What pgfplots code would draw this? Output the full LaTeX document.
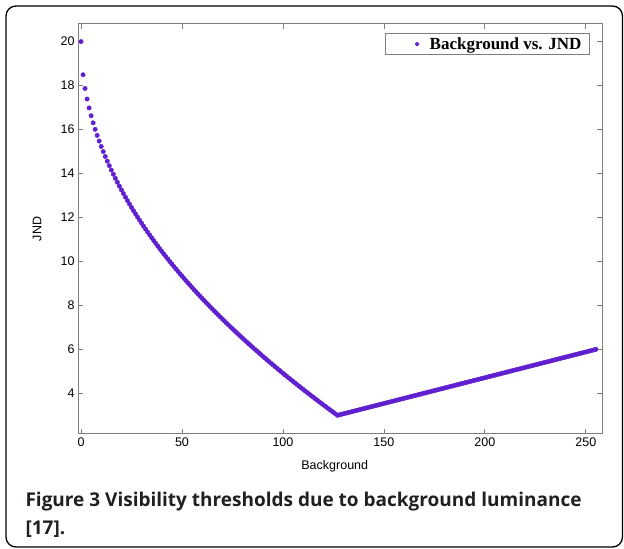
\documentclass[border=0pt]{standalone}
\usepackage{fontspec}
\setmainfont{Liberation Sans}
\newfontfamily\legfont{Liberation Serif}
\newfontfamily\capfont{Open Sans}
\usepackage{pgfplots}
\pgfplotsset{compat=1.18}
\usepackage{pgfplotstable}
\definecolor{axisgray}{RGB}{125,125,125}
\definecolor{markcol}{RGB}{96,32,208}
\definecolor{captext}{RGB}{35,31,32}

% background luminance vs. JND (one point per grey level)
\pgfplotstableread[row sep=\\]{
x y\\
0 20\\ 1 18.492\\ 2 17.867\\ 3 17.387\\ 4 16.983\\ 5 16.627\\ 6 16.305\\ 7 16.009\\ 8 15.733\\ 9 15.474\\
10 15.230\\ 11 14.997\\ 12 14.774\\ 13 14.561\\ 14 14.356\\ 15 14.158\\ 16 13.966\\ 17 13.780\\ 18 13.600\\ 19 13.425\\
20 13.254\\ 21 13.087\\ 22 12.925\\ 23 12.765\\ 24 12.610\\ 25 12.457\\ 26 12.308\\ 27 12.162\\ 28 12.018\\ 29 11.876\\
30 11.738\\ 31 11.601\\ 32 11.467\\ 33 11.334\\ 34 11.204\\ 35 11.076\\ 36 10.949\\ 37 10.824\\ 38 10.701\\ 39 10.579\\
40 10.459\\ 41 10.341\\ 42 10.224\\ 43 10.108\\ 44 9.994\\ 45 9.881\\ 46 9.769\\ 47 9.658\\ 48 9.549\\ 49 9.440\\
50 9.333\\ 51 9.227\\ 52 9.122\\ 53 9.018\\ 54 8.915\\ 55 8.813\\ 56 8.711\\ 57 8.611\\ 58 8.512\\ 59 8.413\\
60 8.315\\ 61 8.218\\ 62 8.122\\ 63 8.027\\ 64 7.932\\ 65 7.838\\ 66 7.745\\ 67 7.652\\ 68 7.560\\ 69 7.469\\
70 7.379\\ 71 7.289\\ 72 7.200\\ 73 7.111\\ 74 7.023\\ 75 6.936\\ 76 6.849\\ 77 6.763\\ 78 6.677\\ 79 6.592\\
80 6.507\\ 81 6.423\\ 82 6.340\\ 83 6.257\\ 84 6.174\\ 85 6.092\\ 86 6.011\\ 87 5.930\\ 88 5.849\\ 89 5.769\\
90 5.689\\ 91 5.610\\ 92 5.531\\ 93 5.452\\ 94 5.374\\ 95 5.297\\ 96 5.220\\ 97 5.143\\ 98 5.067\\ 99 4.991\\
100 4.915\\ 101 4.840\\ 102 4.765\\ 103 4.690\\ 104 4.616\\ 105 4.542\\ 106 4.469\\ 107 4.396\\ 108 4.323\\ 109 4.251\\
110 4.179\\ 111 4.107\\ 112 4.035\\ 113 3.964\\ 114 3.893\\ 115 3.823\\ 116 3.753\\ 117 3.683\\ 118 3.613\\ 119 3.544\\
120 3.475\\ 121 3.406\\ 122 3.338\\ 123 3.270\\ 124 3.202\\ 125 3.134\\ 126 3.067\\ 127 3.000\\
128 3.023\\ 129 3.047\\ 130 3.070\\ 131 3.094\\ 132 3.117\\ 133 3.141\\ 134 3.164\\ 135 3.188\\ 136 3.211\\ 137 3.234\\
138 3.258\\ 139 3.281\\ 140 3.305\\ 141 3.328\\ 142 3.352\\ 143 3.375\\ 144 3.398\\ 145 3.422\\ 146 3.445\\ 147 3.469\\
148 3.492\\ 149 3.516\\ 150 3.539\\ 151 3.563\\ 152 3.586\\ 153 3.609\\ 154 3.633\\ 155 3.656\\ 156 3.680\\ 157 3.703\\
158 3.727\\ 159 3.750\\ 160 3.773\\ 161 3.797\\ 162 3.820\\ 163 3.844\\ 164 3.867\\ 165 3.891\\ 166 3.914\\ 167 3.938\\
168 3.961\\ 169 3.984\\ 170 4.008\\ 171 4.031\\ 172 4.055\\ 173 4.078\\ 174 4.102\\ 175 4.125\\ 176 4.148\\ 177 4.172\\
178 4.195\\ 179 4.219\\ 180 4.242\\ 181 4.266\\ 182 4.289\\ 183 4.313\\ 184 4.336\\ 185 4.359\\ 186 4.383\\ 187 4.406\\
188 4.430\\ 189 4.453\\ 190 4.477\\ 191 4.500\\ 192 4.523\\ 193 4.547\\ 194 4.570\\ 195 4.594\\ 196 4.617\\ 197 4.641\\
198 4.664\\ 199 4.688\\ 200 4.711\\ 201 4.734\\ 202 4.758\\ 203 4.781\\ 204 4.805\\ 205 4.828\\ 206 4.852\\ 207 4.875\\
208 4.898\\ 209 4.922\\ 210 4.945\\ 211 4.969\\ 212 4.992\\ 213 5.016\\ 214 5.039\\ 215 5.063\\ 216 5.086\\ 217 5.109\\
218 5.133\\ 219 5.156\\ 220 5.180\\ 221 5.203\\ 222 5.227\\ 223 5.250\\ 224 5.273\\ 225 5.297\\ 226 5.320\\ 227 5.344\\
228 5.367\\ 229 5.391\\ 230 5.414\\ 231 5.438\\ 232 5.461\\ 233 5.484\\ 234 5.508\\ 235 5.531\\ 236 5.555\\ 237 5.578\\
238 5.602\\ 239 5.625\\ 240 5.648\\ 241 5.672\\ 242 5.695\\ 243 5.719\\ 244 5.742\\ 245 5.766\\ 246 5.789\\ 247 5.813\\
248 5.836\\ 249 5.859\\ 250 5.883\\ 251 5.906\\ 252 5.930\\ 253 5.953\\ 254 5.977\\ 255 6.000\\
}\jnd

\begin{document}
\begin{tikzpicture}
\path (0pt,0pt) rectangle (624pt,549pt);
\draw[line width=1.3pt, rounded corners=10pt] (6pt,2pt) rectangle (622.5pt,543pt);

\begin{axis}[
    at={(78pt,115pt)}, anchor=south west,
    width=524pt, height=410pt, scale only axis,
    xmin=-1.5, xmax=258, ymin=2.15, ymax=20.8,
    xtick={0,50,...,250}, ytick={4,6,...,20},
    tick align=inside, major tick length=5pt,
    axis line style={draw=axisgray, line width=1pt},
    tick style={draw=axisgray, line width=0.8pt},
    ticklabel style={font=\fontsize{12.5}{14}\selectfont},
    /pgf/number format/assume math mode=true,
    xlabel={Background}, ylabel={JND},
    label style={font=\fontsize{12.5}{14}\selectfont},
    xlabel style={at={(axis description cs:0.49,-0.078)}, anchor=center},
    ylabel style={at={(axis description cs:-0.078,0.5)}, anchor=center},
    legend style={at={(axis description cs:0.977,0.978)}, anchor=north east,
        draw=axisgray, line width=1pt, inner xsep=6pt, inner ysep=2pt,
        font=\legfont\bfseries\fontsize{17}{19}\selectfont},
    legend cell align=left,
    legend image code/.code={\path (0pt,0pt) (35pt,0pt); \fill[markcol] (25pt,0pt) circle (1.7pt);},
]
\addplot[only marks, mark=*, mark size=2.2pt, color=markcol] table[x=x, y=y] {\jnd};
\addlegendentry{Background vs. JND}
\end{axis}

\node[anchor=base west, font=\capfont\bfseries\fontsize{19}{23}\selectfont, text=captext]
    at (22pt,42pt) {Figure 3 Visibility thresholds due to background luminance};
\node[anchor=base west, font=\capfont\bfseries\fontsize{19}{23}\selectfont, text=captext]
    at (22pt,14pt) {[17].};
\end{tikzpicture}
\end{document}
